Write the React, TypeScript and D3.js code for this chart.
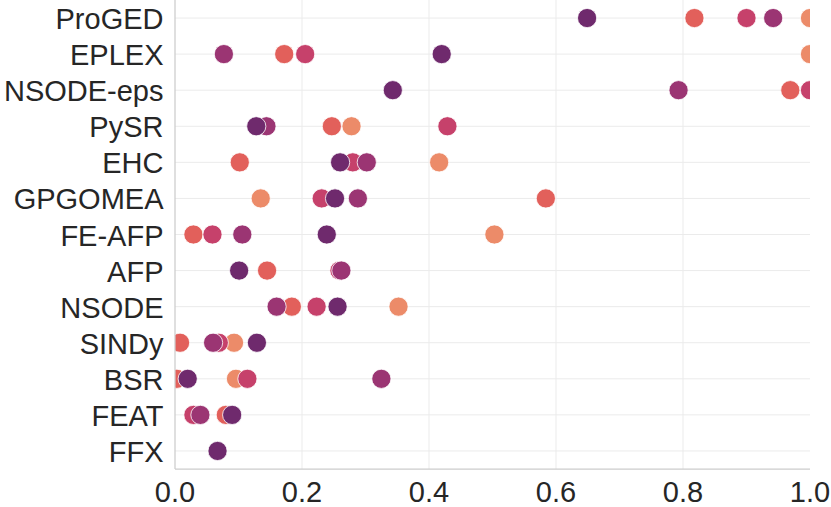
import { useEffect, useRef } from "react";
import * as d3 from "d3";

const methods = [
  "ProGED",
  "EPLEX",
  "NSODE-eps",
  "PySR",
  "EHC",
  "GPGOMEA",
  "FE-AFP",
  "AFP",
  "NSODE",
  "SINDy",
  "BSR",
  "FEAT",
  "FFX",
];

// one array per hue level, same order as methods (null = no point)
const level1 = [1.0, 1.0, null, 0.278, 0.416, 0.135, 0.503, null, 0.352, 0.093, 0.096, null, null];
const level2 = [0.818, 0.172, 0.969, 0.247, 0.102, 0.584, 0.029, 0.145, 0.184, 0.008, 0.003, 0.08, null];
const level3 = [0.9, 0.205, 1.0, 0.429, 0.28, 0.231, 0.059, 0.259, 0.223, 0.069, 0.114, 0.029, null];
const level4 = [0.942, 0.077, 0.793, 0.144, 0.302, 0.288, 0.106, 0.262, 0.16, 0.06, 0.325, 0.04, null];
const level5 = [0.649, 0.42, 0.343, 0.128, 0.26, 0.252, 0.239, 0.101, 0.256, 0.129, 0.02, 0.09, 0.067];

const levels = [level1, level2, level3, level4, level5];
const palette = ["#ec8b69", "#e2605b", "#c6416b", "#9b3573", "#6f2a6d"];
const xTicks = [0, 0.2, 0.4, 0.6, 0.8, 1.0];

const W = 831;
const H = 507;
const margin = { left: 175, right: 21, top: 0, bottom: 38 };

export default function App() {
  const svgRef = useRef<SVGSVGElement>(null);

  useEffect(() => {
    const svg = d3.select(svgRef.current);
    svg.selectAll("*").remove();

    const x = d3
      .scaleLinear()
      .domain([0, 1])
      .range([margin.left, W - margin.right]);
    const y = d3
      .scalePoint<string>()
      .domain(methods)
      .range([margin.top, H - margin.bottom])
      .padding(0.5);

    const font = "'Liberation Sans', Arial, sans-serif";

    svg
      .append("defs")
      .append("clipPath")
      .attr("id", "plot-clip")
      .append("rect")
      .attr("x", margin.left)
      .attr("y", margin.top)
      .attr("width", W - margin.right - margin.left)
      .attr("height", H - margin.bottom - margin.top);

    // grid
    const grid = svg.append("g").attr("stroke", "#ebebeb").attr("stroke-width", 1);
    grid
      .selectAll("line.v")
      .data(xTicks.slice(1, -1))
      .join("line")
      .attr("x1", (d) => x(d))
      .attr("x2", (d) => x(d))
      .attr("y1", margin.top)
      .attr("y2", H - margin.bottom);
    grid
      .selectAll("line.h")
      .data(methods)
      .join("line")
      .attr("x1", margin.left)
      .attr("x2", W - margin.right)
      .attr("y1", (d) => y(d)!)
      .attr("y2", (d) => y(d)!);

    // points, lightest hue first
    const pts = svg.append("g").attr("clip-path", "url(#plot-clip)");
    levels.forEach((vals, li) => {
      const data = vals
        .map((v, i) => ({ v, m: methods[i] }))
        .filter((d) => d.v !== null) as { v: number; m: string }[];
      pts
        .append("g")
        .selectAll("circle")
        .data(data)
        .join("circle")
        .attr("cx", (d) => x(d.v))
        .attr("cy", (d) => y(d.m)!)
        .attr("r", 9.6)
        .attr("fill", palette[li])
        .attr("stroke", "#ffffff")
        .attr("stroke-width", 0.8);
    });

    // spines
    svg
      .append("line")
      .attr("x1", margin.left)
      .attr("x2", margin.left)
      .attr("y1", margin.top)
      .attr("y2", H - margin.bottom)
      .attr("stroke", "#cccccc")
      .attr("stroke-width", 1.25);
    svg
      .append("line")
      .attr("x1", margin.left)
      .attr("x2", W - margin.right)
      .attr("y1", H - margin.bottom)
      .attr("y2", H - margin.bottom)
      .attr("stroke", "#cccccc")
      .attr("stroke-width", 1.25);

    // labels
    svg
      .append("g")
      .selectAll("text")
      .data(methods)
      .join("text")
      .attr("x", margin.left - 11.5)
      .attr("y", (d) => y(d)! + 11)
      .attr("text-anchor", "end")
      .attr("font-family", font)
      .attr("font-size", 29)
      .attr("fill", "#262626")
      .text((d) => d);

    svg
      .append("g")
      .selectAll("text")
      .data(xTicks)
      .join("text")
      .attr("x", (d) => x(d))
      .attr("y", 501.5)
      .attr("text-anchor", "middle")
      .attr("font-family", font)
      .attr("font-size", 29)
      .attr("fill", "#262626")
      .text((d) => d3.format(".1f")(d));
  }, []);

  return (
    <svg
      ref={svgRef}
      width={W}
      height={H}
      style={{ position: "absolute", left: 0, top: 0, background: "#fff" }}
    />
  );
}
